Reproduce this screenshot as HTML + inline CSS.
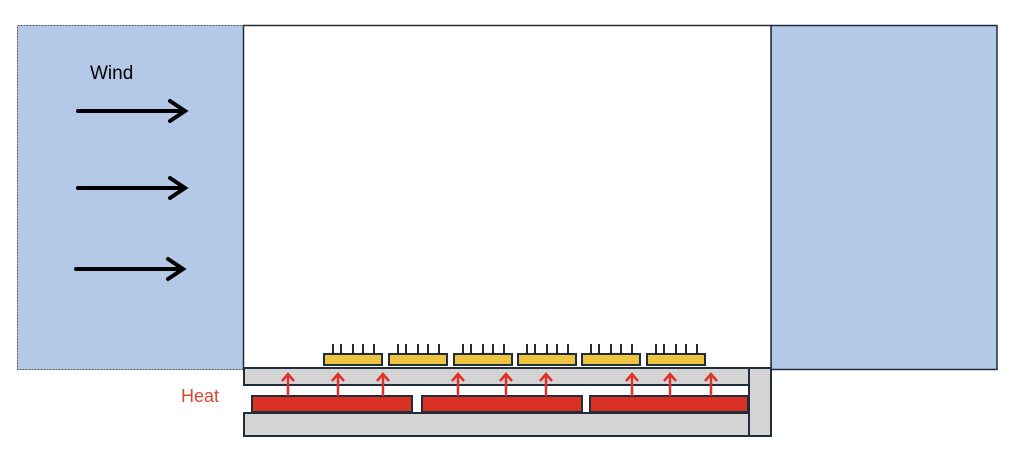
<!DOCTYPE html>
<html><head><style>body{margin:0;background:#fff}svg{display:block}</style></head><body>
<svg width="1024" height="470" xmlns="http://www.w3.org/2000/svg">
<rect x="17.5" y="25.5" width="226" height="344" fill="#b4c8e8" stroke="#555" stroke-dasharray="2,1"/>
<rect x="771" y="25.5" width="226" height="344" fill="#b4c8e8" stroke="#1f2d3d" stroke-width="1.5"/>
<rect x="243.5" y="25.5" width="527.5" height="344" fill="#fff" stroke="#1f2d3d" stroke-width="1.5"/>
<text x="90" y="79" font-family="Liberation Sans,sans-serif" font-size="19">Wind</text>
<g stroke="#000" stroke-width="4" fill="none" stroke-linecap="round">
<path d="M78 111H184M170 101L185 111L170 121"/>
<path d="M78 188H184M170 178L185 188L170 198"/>
<path d="M76 269H182M168 259L183 269L168 279"/>
</g>
<g fill="#d4d4d4" stroke="#1f2d3d" stroke-width="2">
<rect x="244" y="368" width="506" height="17"/>
<rect x="244" y="413" width="506" height="23"/>
<rect x="749" y="368" width="22" height="68"/>
</g>
<g fill="#db3125" stroke="#1f2d3d" stroke-width="2">
<rect x="252" y="396" width="160" height="16"/>
<rect x="422" y="396" width="160" height="16"/>
<rect x="590" y="396" width="158" height="16"/>
</g>
<text x="181" y="402" font-family="Liberation Sans,sans-serif" font-size="18" fill="#e0452e">Heat</text>
<g stroke="#e0302a" stroke-width="2.5" fill="none">
<path d="M288 396V374M282 381L288 374L294 381"/>
<path d="M338 396V374M332 381L338 374L344 381"/>
<path d="M383 396V374M377 381L383 374L389 381"/>
<path d="M458 396V374M452 381L458 374L464 381"/>
<path d="M506 396V374M500 381L506 374L512 381"/>
<path d="M546 396V374M540 381L546 374L552 381"/>
<path d="M632 396V374M626 381L632 374L638 381"/>
<path d="M670 396V374M664 381L670 374L676 381"/>
<path d="M711 396V374M705 381L711 374L717 381"/>
</g>
<g fill="#eec33f" stroke="#1f2d3d" stroke-width="2">
<rect x="324" y="354" width="58" height="11"/>
<rect x="389" y="354" width="58" height="11"/>
<rect x="454" y="354" width="58" height="11"/>
<rect x="518" y="354" width="58" height="11"/>
<rect x="582" y="354" width="58" height="11"/>
<rect x="647" y="354" width="58" height="11"/>
</g>
<g stroke="#111" stroke-width="1.8">
<path d="M333 344V354M341 344V354M353 344V354M363 344V354M374 344V354"/>
<path d="M398 344V354M406 344V354M418 344V354M428 344V354M439 344V354"/>
<path d="M463 344V354M471 344V354M483 344V354M493 344V354M504 344V354"/>
<path d="M527 344V354M535 344V354M547 344V354M557 344V354M568 344V354"/>
<path d="M591 344V354M599 344V354M611 344V354M621 344V354M632 344V354"/>
<path d="M656 344V354M664 344V354M676 344V354M686 344V354M697 344V354"/>
</g>
</svg>
</body></html>
